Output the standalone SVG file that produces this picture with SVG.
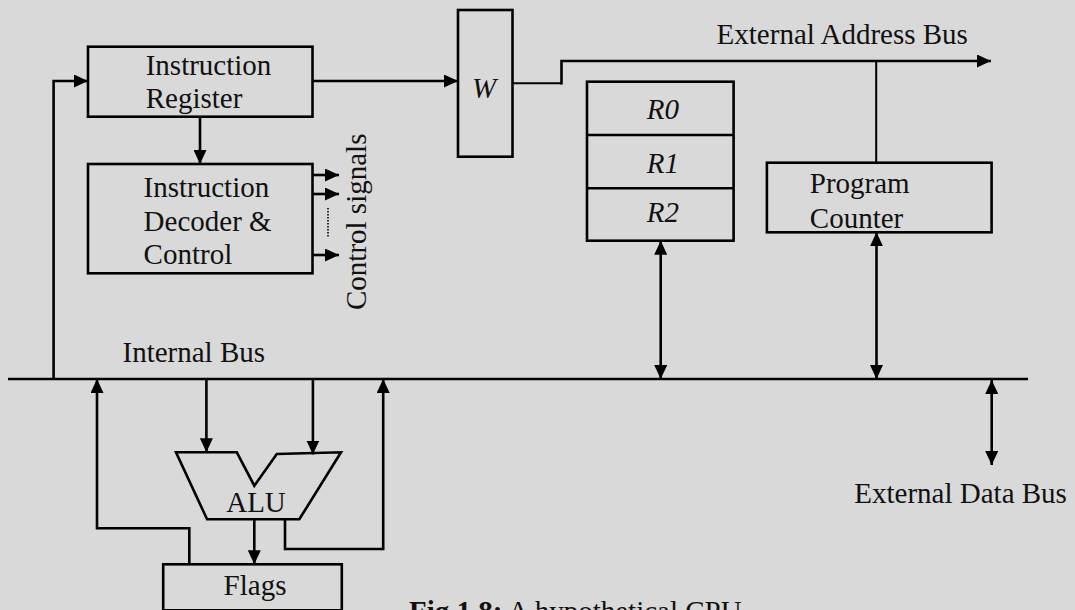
<svg xmlns="http://www.w3.org/2000/svg" width="1075" height="610" viewBox="0 0 1075 610">
<style>
text{font-family:"Liberation Serif","Times New Roman",serif;font-size:29px;fill:#111}
.box{fill:none;stroke:#000;stroke-width:2.6}
.c{fill:none;stroke:#000;stroke-width:2.6}
.thin{fill:none;stroke:#000;stroke-width:2}
.it{font-style:italic}
.mid{text-anchor:middle}
</style>
<defs>
<marker id="ah" viewBox="0 0 14 13" refX="14" refY="6.5" markerWidth="14" markerHeight="13" markerUnits="userSpaceOnUse" orient="auto-start-reverse">
<path d="M0,0 L14,6.5 L0,13 z" fill="#000"/>
</marker>
</defs>
<rect x="0" y="0" width="1075" height="610" fill="#d9d9d9"/>

<g id="connectors">
<path class="c" d="M53.6,379 V81 H88" marker-end="url(#ah)"/>
<path class="c" d="M312.5,81 H458" marker-end="url(#ah)"/>
<path class="c" d="M200,116.7 V164" marker-end="url(#ah)"/>
<path class="c" d="M312.5,175 H339" marker-end="url(#ah)"/>
<path class="c" d="M312.5,194 H339" marker-end="url(#ah)"/>
<path class="c" d="M312.5,255 H339" marker-end="url(#ah)"/>
<path d="M328,208 V237" stroke="#000" stroke-width="1.6" stroke-dasharray="1.5,1.5" fill="none"/>
<path class="thin" d="M512.5,83.3 H561.5"/>
<path class="c" d="M561.5,84.5 V61 H991" marker-end="url(#ah)"/>
<path class="thin" d="M876.2,162.7 V61"/>
<path class="c" d="M660.7,240.7 V379" marker-start="url(#ah)" marker-end="url(#ah)"/>
<path class="c" d="M876.5,232.3 V379" marker-start="url(#ah)" marker-end="url(#ah)"/>
<path class="c" d="M991.7,380 V465" marker-start="url(#ah)" marker-end="url(#ah)"/>
<path class="c" d="M8,379 H1028"/>
<path class="c" d="M206.4,379 V452.3" marker-end="url(#ah)"/>
<path class="c" d="M312.9,379 V454.5" marker-end="url(#ah)"/>
<path class="c" d="M189.3,564.3 V528.3 H97 V379" marker-end="url(#ah)"/>
<path class="c" d="M254.3,519.3 V564.3" marker-end="url(#ah)"/>
<path class="c" d="M285,519.3 V549 H383.2 V379" marker-end="url(#ah)"/>
</g>

<g id="instruction-register">
<rect class="box" x="88" y="46.7" width="224.5" height="70"/>
<text x="145.7" y="75">Instruction</text>
<text x="145.7" y="108">Register</text>
</g>

<g id="instruction-decoder">
<rect class="box" x="88" y="164" width="224.5" height="109.3"/>
<text x="143.6" y="197.3">Instruction</text>
<text x="143.6" y="231">Decoder &amp;</text>
<text x="143.6" y="264.3">Control</text>
</g>

<g id="control-signals">
<text transform="translate(366,310) rotate(-90)">Control signals</text>
</g>

<g id="w-register">
<rect class="box" x="458" y="10" width="54.5" height="146.7"/>
<text class="it mid" x="484" y="98">W</text>
</g>

<g id="address-bus-label">
<text x="716.6" y="44.3">External Address Bus</text>
</g>

<g id="registers">
<rect class="box" x="587" y="81.7" width="146.6" height="159"/>
<line class="box" x1="587" y1="135" x2="733.6" y2="135"/>
<line class="box" x1="587" y1="188.3" x2="733.6" y2="188.3"/>
<text class="it mid" x="662.8" y="119.3">R0</text>
<text class="it mid" x="662.8" y="172.7">R1</text>
<text class="it mid" x="662.8" y="221.7">R2</text>
</g>

<g id="program-counter">
<rect class="box" x="766.9" y="162.7" width="224.7" height="69.6"/>
<text x="809.8" y="193.3">Program</text>
<text x="809.8" y="227.7">Counter</text>
</g>

<g id="internal-bus-label">
<text x="122.5" y="362.3">Internal Bus</text>
</g>

<g id="alu">
<polygon class="box" points="176,452.3 236.8,452.3 254.3,485.7 276.8,454 341,452.3 299.3,519.3 207.1,519.3"/>
<text class="mid" x="256" y="512.3">ALU</text>
</g>

<g id="flags">
<rect class="box" x="163.2" y="564.3" width="178.6" height="46"/>
<text class="mid" x="255" y="595">Flags</text>
</g>

<g id="data-bus-label">
<text x="854.3" y="503.3">External Data Bus</text>
</g>

<g id="caption">
<text x="409" y="621"><tspan font-weight="bold">Fig 1.8:</tspan> A hypothetical CPU</text>
</g>
</svg>
